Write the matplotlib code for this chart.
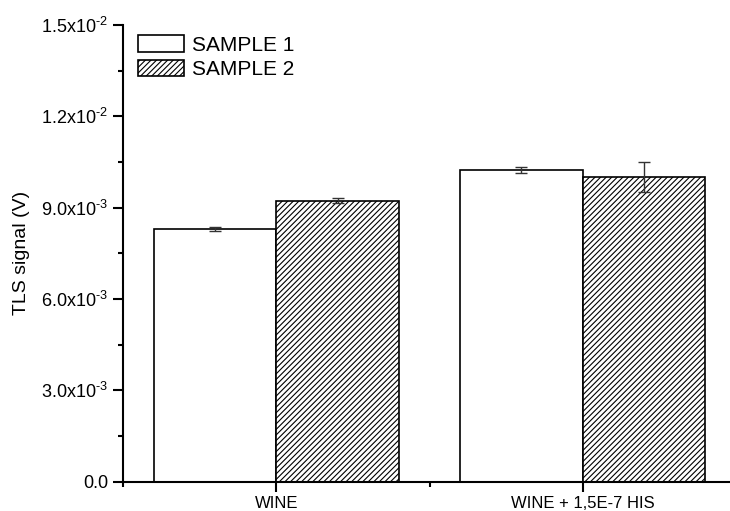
import matplotlib
matplotlib.use("Agg")
import matplotlib.pyplot as plt
import numpy as np
from matplotlib.ticker import MultipleLocator, FixedLocator

plt.rcParams['font.family'] = ['Liberation Sans', 'DejaVu Sans']
plt.rcParams['mathtext.fontset'] = 'custom'
plt.rcParams['mathtext.rm'] = 'Liberation Sans'
plt.rcParams['hatch.linewidth'] = 0.8

categories = ["WINE", "WINE + 1,5E-7 HIS"]
series_names = ["SAMPLE 1", "SAMPLE 2"]
sample1 = [8.30e-3, 10.24e-3]
sample1_err = [0.08e-3, 0.09e-3]
sample2 = [9.23e-3, 10.00e-3]
sample2_err = [0.08e-3, 0.50e-3]
ytick_values = [0.0, 3.0e-3, 6.0e-3, 9.0e-3, 1.2e-2, 1.5e-2]
ytick_labels = ["0.0", r"$\mathregular{3.0x10^{\text{-}3}}$", r"$\mathregular{6.0x10^{\text{-}3}}$",
                r"$\mathregular{9.0x10^{\text{-}3}}$", r"$\mathregular{1.2x10^{\text{-}2}}$",
                r"$\mathregular{1.5x10^{\text{-}2}}$"]

fig = plt.figure(figsize=(7.3, 5.11), dpi=100)
ax = fig.add_axes([0.169, 0.0573, 0.839, 0.8937])

x = np.arange(len(categories))
w = 0.4
err_kw = dict(ecolor='#333333', elinewidth=1.0, capsize=4, capthick=1.0)
ax.bar(x - w/2, sample1, w, yerr=sample1_err, color='white', edgecolor='black',
       linewidth=1.2, label=series_names[0], error_kw=err_kw)
ax.bar(x + w/2, sample2, w, yerr=sample2_err, color='white', edgecolor='black',
       linewidth=1.2, hatch='//////', label=series_names[1], error_kw=err_kw)

ax.set_xlim(-0.5, 1.5)
ax.set_ylim(0, 0.015)
ax.spines['top'].set_visible(False)
ax.spines['right'].set_visible(False)
ax.spines['left'].set_linewidth(1.5)
ax.spines['bottom'].set_linewidth(1.5)

ax.set_xticks(x)
ax.set_xticklabels(categories, fontsize=12)
ax.xaxis.set_minor_locator(FixedLocator([-0.5, 0.5, 1.5]))
ax.set_yticks(ytick_values)
ax.set_yticklabels(ytick_labels, fontsize=13)
ax.yaxis.set_minor_locator(MultipleLocator(1.5e-3))
ax.tick_params(axis='both', which='major', direction='out', length=7, width=1.5, pad=4)
ax.tick_params(axis='both', which='minor', direction='out', length=3.5, width=1.5)
ax.tick_params(axis='x', which='major', pad=3)

ax.set_ylabel("TLS signal (V)", fontsize=14, labelpad=8)

leg = ax.legend(loc='upper left', bbox_to_anchor=(0.0, 1.01), frameon=False,
                fontsize=15, handlelength=2.2, handleheight=0.85,
                handletextpad=0.4, labelspacing=0.25, borderaxespad=0.3)

fig.savefig("out.png", dpi=100)
